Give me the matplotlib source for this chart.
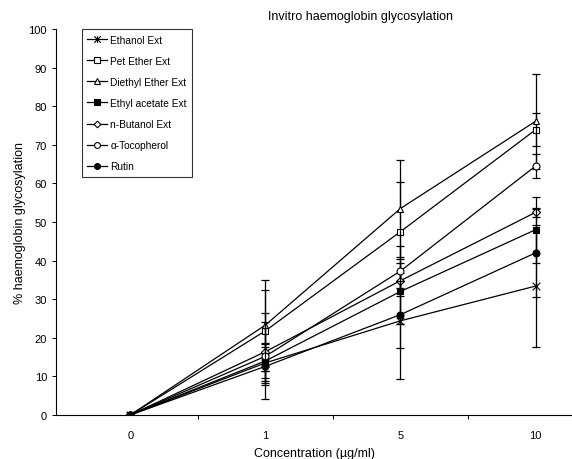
import numpy as np
import matplotlib.pyplot as plt
from matplotlib.path import Path

plt.rcParams['font.family'] = ['Liberation Sans', 'DejaVu Sans']

concentrations = ["0", "1", "5", "10"]
series_names = ["Ethanol Ext", "Pet Ether Ext", "Diethyl Ether Ext", "Ethyl acetate Ext",
                "n-Butanol Ext", "\u03b1-Tocopherol", "Rutin"]

ethanol = [0, 13.5, 24.4, 33.4]
pet_ether = [0, 21.8, 47.5, 73.9]
diethyl_ether = [0, 23.3, 53.5, 76.1]
ethyl_acetate = [0, 14.0, 32.0, 48.0]
n_butanol = [0, 16.4, 34.8, 52.5]
tocopherol = [0, 15.2, 37.3, 64.5]
rutin = [0, 12.6, 26.0, 42.0]

ethanol_err = [0, 5.2, 15.1, 15.9]
pet_ether_err = [0, 10.5, 12.9, 4.3]
diethyl_ether_err = [0, 11.8, 12.6, 12.3]
ethyl_acetate_err = [0, 4.3, 8.3, 8.5]
n_butanol_err = [0, 7.6, 2.0, 1.1]
tocopherol_err = [0, 11.1, 6.5, 3.0]
rutin_err = [0, 4.9, 8.7, 11.5]

# excel style "star" marker: an x with a vertical stroke
star = Path([(-1, -1), (1, 1), (-1, 1), (1, -1), (0, -1), (0, 1)],
            [Path.MOVETO, Path.LINETO, Path.MOVETO, Path.LINETO, Path.MOVETO, Path.LINETO])

styles = [
    (star, "none", 5.5),
    ("s", "white", 5),
    ("^", "white", 5),
    ("s", "black", 5),
    ("D", "white", 4),
    ("o", "white", 5),
    ("o", "black", 5),
]

values = [ethanol, pet_ether, diethyl_ether, ethyl_acetate, n_butanol, tocopherol, rutin]
errors = [ethanol_err, pet_ether_err, diethyl_ether_err, ethyl_acetate_err,
          n_butanol_err, tocopherol_err, rutin_err]

fig = plt.figure(figsize=(5.72, 4.6), dpi=100)
ax = fig.add_axes([0.098, 0.0957, 0.902, 0.839])

x = np.arange(len(concentrations))
handles = []
for name, y, err, (mk, face, ms) in zip(series_names, values, errors, styles):
    ax.errorbar(x, y, yerr=err, fmt="none", ecolor="black", elinewidth=0.9,
                capsize=3, capthick=0.9)
    line, = ax.plot(x, y, color="black", lw=0.9, marker=mk, markersize=ms,
                    markerfacecolor=face, markeredgecolor="black",
                    markeredgewidth=0.8, label=name)
    handles.append(line)

ax.set_xlim(-0.55, 3.27)
ax.set_ylim(0, 100)
ax.set_yticks(np.arange(0, 101, 10))
ax.set_xticks(x)
ax.set_xticklabels(concentrations)
ax.set_xticks(x[:-1] + 0.5, minor=True)
ax.tick_params(axis="x", which="major", length=0, pad=11, labelsize=8)
ax.tick_params(axis="x", which="minor", length=3, width=0.7)
ax.tick_params(axis="y", length=3, width=0.7, labelsize=8)
ax.spines["top"].set_visible(False)
ax.spines["right"].set_visible(False)
for s in ["left", "bottom"]:
    ax.spines[s].set_linewidth(0.8)

ax.set_ylabel("% haemoglobin glycosylation", fontsize=9, labelpad=2)
ax.set_xlabel("Concentration (\u00b5g/ml)", fontsize=9, labelpad=5)
fig.text(0.63, 0.962, "Invitro haemoglobin glycosylation", fontsize=9, ha="center", va="center")

leg = ax.legend(handles=handles, loc="upper left", bbox_to_anchor=(0.04, 1.012),
                fontsize=7.3, frameon=True, fancybox=False, edgecolor="black",
                handlelength=2.0, labelspacing=1.1, handletextpad=0.3, borderpad=0.5,
                markerscale=0.85)
leg.get_frame().set_linewidth(0.8)

fig.savefig("out.png", dpi=100)
